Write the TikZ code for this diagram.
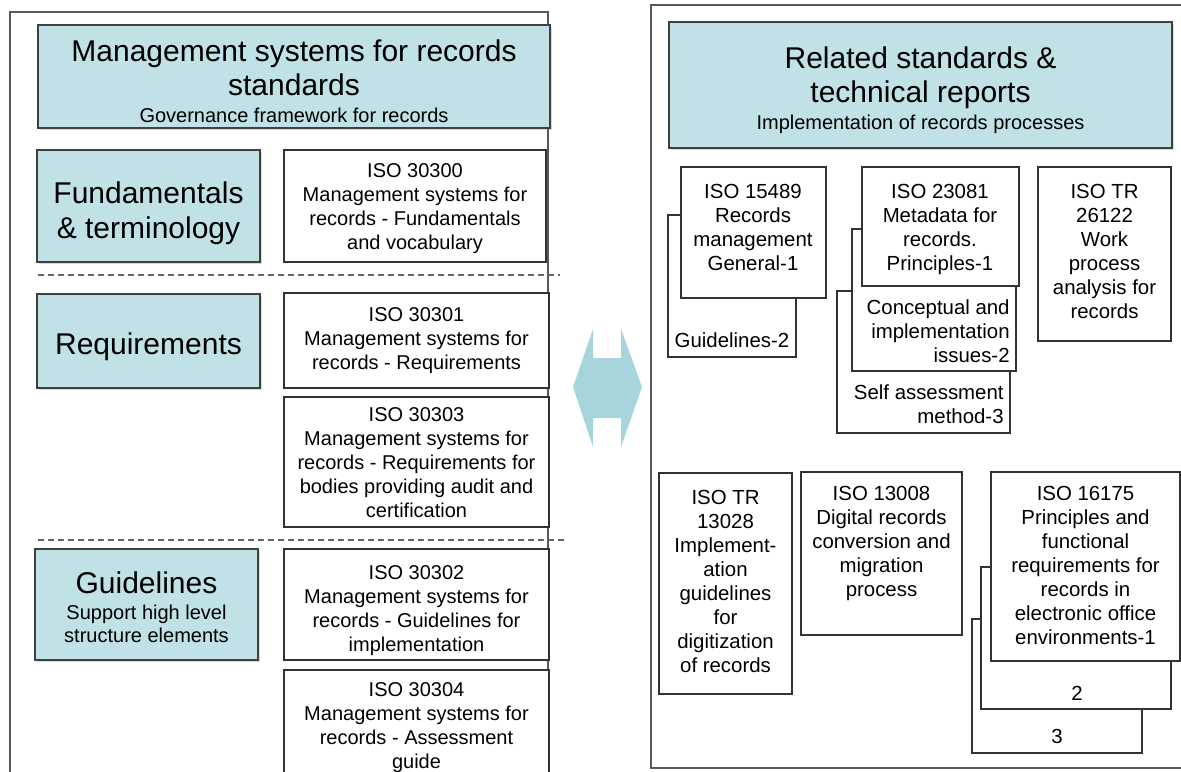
\documentclass[tikz,border=0pt]{standalone}
\usepackage{fontspec}
\setmainfont{Liberation Sans}
\usetikzlibrary{fit,shadows}
\definecolor{recteal}{RGB}{192,225,229}
\definecolor{arrteal}{RGB}{168,213,220}
\newcommand{\bigtxt}{\fontsize{15}{17}\selectfont}
\newcommand{\subtxt}{\fontsize{10}{17}\selectfont}
\newcommand{\isotxt}{\fontsize{10}{12}\selectfont}
\newcommand{\reltxt}{\fontsize{10.2}{12}\selectfont}

\begin{document}
\begin{tikzpicture}[x=0.5pt,y=-0.5pt,
    headbox/.style={draw=black!75, fill=recteal, line width=0.8pt, inner sep=0pt,
        drop shadow={shadow xshift=1pt, shadow yshift=-1pt, opacity=0.25, fill=black!60}},
    headtext/.style={inner sep=0pt, align=center, font=\bigtxt, anchor=north},
    isobox/.style={draw=black!80, fill=white, line width=0.6pt, inner sep=0pt},
    isotext/.style={inner sep=0pt, align=center, font=\isotxt, anchor=north},
    relbox/.style={draw=black!80, fill=white, line width=0.6pt, inner sep=0pt},
    reltext/.style={inner sep=0pt, align=center, font=\reltxt},
    panel/.style={draw=black!65, line width=0.9pt},
    divider/.style={draw=black!60, line width=0.6pt, dash pattern=on 3pt off 2pt}]
            \useasboundingbox[fill=white] (0,0) rectangle (1181,771);

            % the two panels
            \draw[panel] (10,800) -- (10,12) -- (548,12) -- (548,800);
            \draw[panel] (1200,5) -- (651,5) -- (651,768) -- (1200,768);

            % left panel: management systems
            \node[headbox, fit={(38,25) (550,128)}] (mshead) {};
            \node[headtext] (msheadt) at (294,39.5) {Management systems for records\\standards\\[-3.6pt]\subtxt Governance framework for records};

            \node[headbox, fit={(37,150) (260,262)}] (fund) {};
            \node[headtext] (fundt) at (148.5,181) {Fundamentals\\[0.5pt]\& terminology};
            \node[isobox, fit={(284,150) (546,262)}] (iso30300) {};
            \node[isotext] (iso30300t) at (415,163) {ISO 30300\\Management systems for\\records - Fundamentals\\and vocabulary};
            \draw[divider] (38,275) -- (560,275);

            \node[headbox, fit={(37,294) (260,388)}] (req) {};
            \node[headtext] (reqt) at (148.5,332) {Requirements};
            \node[isobox, fit={(284,293) (549,388)}] (iso30301) {};
            \node[isotext] (iso30301t) at (416.5,307) {ISO 30301\\Management systems for\\records - Requirements};
            \node[isobox, fit={(284,397) (549,527)}] (iso30303) {};
            \node[isotext] (iso30303t) at (416.5,407.5) {ISO 30303\\Management systems for\\records - Requirements for\\bodies providing audit and\\certification};
            \draw[divider] (38,540) -- (565,540);

            \node[headbox, fit={(35,549) (258,660)}] (guide) {};
            \node[headtext] (guidet) at (146.5,571) {Guidelines\\[-4pt]\subtxt Support high level\\[-5.5pt]\subtxt structure elements};
            \node[isobox, fit={(284,549) (549,660)}] (iso30302) {};
            \node[isotext] (iso30302t) at (416.5,565) {ISO 30302\\Management systems for\\records - Guidelines for\\implementation};
            \node[isobox, fit={(284,670) (549,820)}] (iso30304) {};
            \node[isotext] (iso30304t) at (416.5,682) {ISO 30304\\Management systems for\\records - Assessment\\guide};

            % double arrow between the panels
            \fill[arrteal] (573,387) -- (593,329) -- (593,358) -- (621,358) -- (621,329) -- (642,387)
                -- (621,447) -- (621,418) -- (593,418) -- (593,447) -- cycle;

            % right panel: related standards
            \node[headbox, fit={(669,22) (1172,148)}] (relhead) {};
            \node[headtext] (relheadt) at (920.5,46) {Related standards \&\\technical reports\\[-3.5pt]\subtxt Implementation of records processes};

            % ISO 15489
            \node[relbox, fit={(668,215) (796,357)}] (r15489b) {};
            \node[relbox, fit={(681,167) (826,298)}] (r15489) {};
            \node[reltext, anchor=north] (r15489t) at (753,184) {ISO 15489\\Records\\management\\General-1};
            \node[reltext] (r15489bt) at (732,340) {Guidelines-2};

            % ISO 23081
            \node[relbox, fit={(837,291) (1010,433)}] (r23081c) {};
            \node[relbox, fit={(852,229) (1016,371)}] (r23081b) {};
            \node[relbox, fit={(862,167) (1019,286)}] (r23081) {};
            \node[reltext, anchor=north] (r23081t) at (940,184) {ISO 23081\\Metadata for\\records.\\Principles-1};
            \node[reltext, align=right, anchor=north east] (r23081bt) at (1010,299) {Conceptual and\\implementation\\issues-2};
            \node[reltext, align=right, anchor=north east] (r23081ct) at (1004,384) {Self assessment\\method-3};

            % ISO TR 26122
            \node[relbox, fit={(1038,167) (1171,341)}] (r26122) {};
            \node[reltext, anchor=north] (r26122t) at (1104.5,184) {ISO TR\\26122\\Work\\process\\analysis for\\records};

            % ISO TR 13028
            \node[relbox, fit={(659,473) (792,694)}] (r13028) {};
            \node[reltext, anchor=north] (r13028t) at (725.5,490) {ISO TR\\13028\\Implement-\\ation\\guidelines\\for\\digitization\\of records};

            % ISO 13008
            \node[relbox, fit={(801,472) (962,635)}] (r13008) {};
            \node[reltext, anchor=north] (r13008t) at (881.5,486) {ISO 13008\\Digital records\\conversion and\\migration\\process};

            % ISO 16175
            \node[relbox, fit={(972,619) (1142,753)}] (r16175c) {};
            \node[relbox, fit={(981,567) (1171,709)}] (r16175b) {};
            \node[relbox, fit={(991,472) (1180,661)}] (r16175) {};
            \node[reltext, anchor=north] (r16175t) at (1085.5,486) {ISO 16175\\Principles and\\functional\\requirements for\\records in\\electronic office\\environments-1};
            \node[reltext] (r16175bt) at (1077,693) {2};
            \node[reltext] (r16175ct) at (1057,736) {3};
        \end{tikzpicture}
\end{document}
